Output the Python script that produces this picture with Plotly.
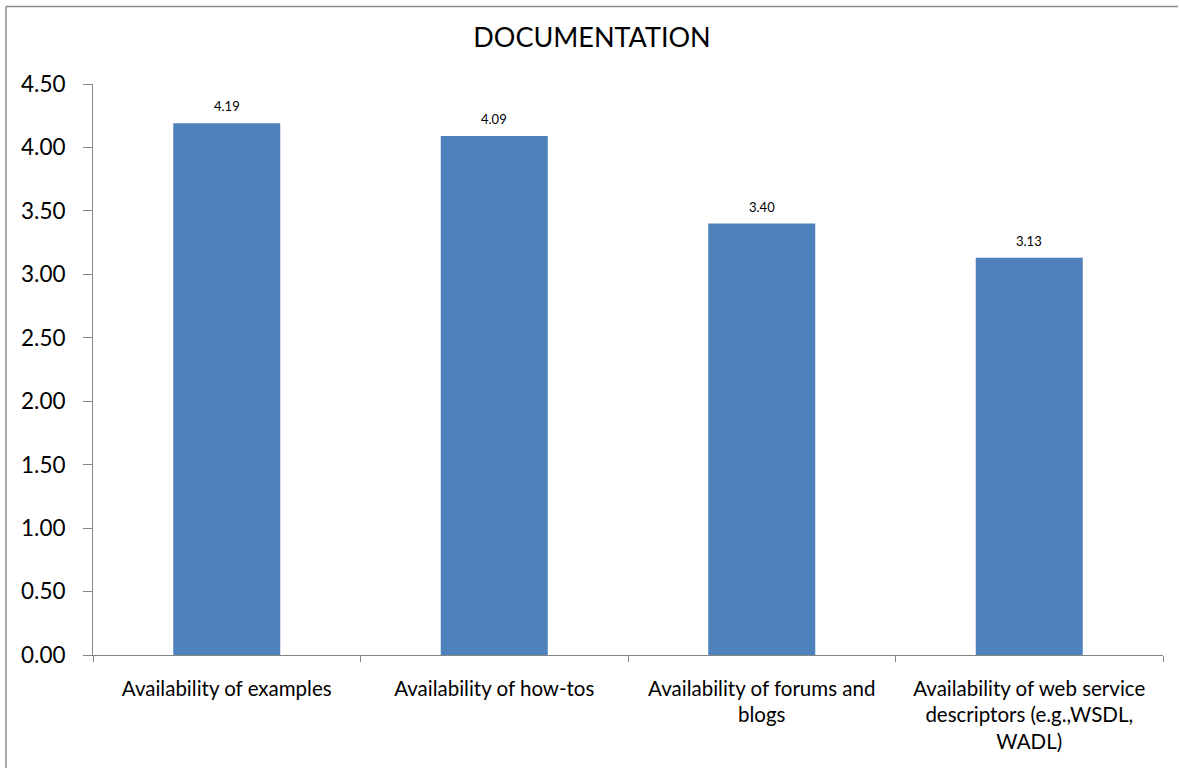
import plotly.graph_objects as go

# Documentation survey: mean scores per item
categories = [
    "Availability of examples",
    "Availability of how-tos",
    "Availability of forums and<br>blogs",
    "Availability of web service<br>descriptors (e.g.,WSDL,<br>WADL)",
]
scores = [4.19, 4.09, 3.40, 3.13]
y_ticks = [0.0, 0.5, 1.0, 1.5, 2.0, 2.5, 3.0, 3.5, 4.0, 4.5]

FONT = "Lato, 'Open Sans', sans-serif"
AXIS_GREY = "#868686"
FRAME_GREY = "#8c8c8c"

W, H = 1179, 769
L, R, T, B = 93, 16, 84, 114
plot_w = W - L - R
plot_h = H - T - B


def px_x(px):
    return (px - L) / plot_w


def px_y(py):
    return (T + plot_h - py) / plot_h


fig = go.Figure(
    go.Bar(
        x=categories,
        y=scores,
        marker=dict(color="#4F81BD", line=dict(width=0)),
        hoverinfo="x+y",
    )
)

# value labels above each bar
for cat, val in zip(categories, scores):
    fig.add_annotation(
        x=cat, y=val,
        text=f"{val:.2f}",
        showarrow=False,
        yshift=17,
        font=dict(size=13, color="#000000", family=FONT),
    )

# outer chart frame: left edge and top edge
fig.add_shape(
    type="line", xref="paper", yref="paper",
    x0=px_x(6), x1=px_x(6), y0=px_y(6.5), y1=px_y(H - 1),
    line=dict(color=FRAME_GREY, width=1.5),
)
fig.add_shape(
    type="line", xref="paper", yref="paper",
    x0=px_x(6), x1=px_x(W - 1), y0=px_y(6.5), y1=px_y(6.5),
    line=dict(color=FRAME_GREY, width=1.5),
)

fig.update_layout(
    width=W,
    height=H,
    margin=dict(l=L, r=R, t=T, b=B),
    paper_bgcolor="white",
    plot_bgcolor="white",
    bargap=0.6,
    showlegend=False,
    title=dict(
        text="DOCUMENTATION",
        x=592 / W, xanchor="center",
        y=1 - 38 / H, yanchor="middle",
        font=dict(size=27, color="#000000", family=FONT),
    ),
    font=dict(family=FONT, color="#000000"),
)

fig.update_xaxes(
    showline=True,
    linecolor=AXIS_GREY,
    linewidth=1,
    ticks="outside",
    tickson="boundaries",
    ticklen=6,
    tickcolor=AXIS_GREY,
    ticklabelstandoff=15,
    tickfont=dict(size=20.5, family=FONT, color="#000000"),
    showgrid=False,
    zeroline=False,
)

fig.update_yaxes(
    range=[0, 4.5],
    tickvals=y_ticks,
    tickformat=".2f",
    showline=True,
    linecolor=AXIS_GREY,
    linewidth=1,
    ticks="outside",
    ticklen=9,
    tickcolor=AXIS_GREY,
    ticklabelstandoff=13,
    tickfont=dict(size=22.5, family=FONT, color="#000000"),
    showgrid=False,
    zeroline=False,
)

fig.write_html("out.html")
